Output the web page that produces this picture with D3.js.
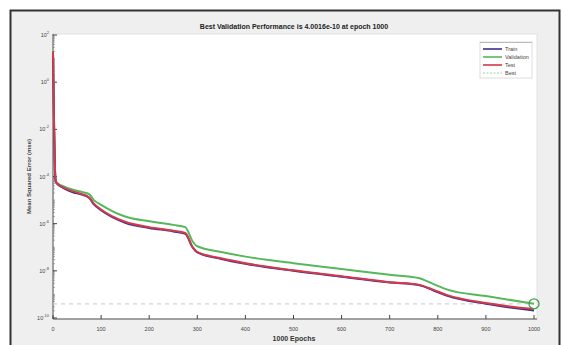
<!DOCTYPE html>
<html>
<head>
<meta charset="utf-8">
<script src="https://cdn.jsdelivr.net/npm/d3@7"></script>
<style>
  body { margin: 0; background: #ffffff; }
  #chart { width: 562px; height: 345px; }
  text { font-family: "Liberation Sans", Arial, sans-serif; }
</style>
</head>
<body>
<div id="chart"></div>
<script>
const epochs = [0, 2, 4, 6, 10, 20, 40, 60, 75, 85, 100, 150, 200, 250, 275, 290, 300, 350, 400, 500, 600, 700, 760, 790, 820, 900, 1000];

const trainMse = [1.6e1, 2.5e-2, 2.0e-4, 5.6e-5, 4.6e-5, 3.4e-5, 2.2e-5, 1.7e-5, 1.26e-5, 6.6e-6, 3.7e-6, 1.1e-6, 6.6e-7, 4.7e-7, 3.7e-7, 1.0e-7, 6.0e-8, 3.2e-8, 2.0e-8, 1.0e-8, 5.6e-9, 3.2e-9, 2.5e-9, 1.5e-9, 8.7e-10, 4.0e-10, 2.1e-10];
const validationMse = [2.0e1, 3.2e-2, 2.5e-4, 6.3e-5, 5.0e-5, 4.0e-5, 2.8e-5, 2.2e-5, 1.8e-5, 1.0e-5, 6.3e-6, 2.0e-6, 1.26e-6, 8.9e-7, 7.1e-7, 1.8e-7, 1.1e-7, 6.3e-8, 4.0e-8, 2.1e-8, 1.2e-8, 6.8e-9, 5.0e-9, 2.8e-9, 1.6e-9, 8.5e-10, 4.0016e-10];
const testMse = [2.0e1, 3.2e-2, 2.5e-4, 6.3e-5, 4.8e-5, 3.5e-5, 2.4e-5, 1.8e-5, 1.3e-5, 7.1e-6, 4.0e-6, 1.2e-6, 7.1e-7, 5.0e-7, 4.0e-7, 1.05e-7, 6.3e-8, 3.4e-8, 2.1e-8, 1.05e-8, 5.9e-9, 3.3e-9, 2.6e-9, 1.6e-9, 9.3e-10, 4.3e-10, 2.4e-10];

const bestEpoch = 1000;
const bestValue = 4.0016e-10;

const xTicks = [0, 100, 200, 300, 400, 500, 600, 700, 800, 900, 1000];
const yTickExps = [2, 0, -2, -4, -6, -8, -10];

const seriesNames = ["Train", "Validation", "Test", "Best"];
const seriesColors = ["#3b2f94", "#55b85a", "#d23a4a", "#9fd39f"];

const W = 562, H = 345;
const plot = { left: 53, right: 537, top: 34, bottom: 319 };

const svg = d3.select("#chart").append("svg")
  .attr("width", W)
  .attr("height", H);

// figure frame
svg.append("rect")
  .attr("x", 10.5).attr("y", 10.5)
  .attr("width", 549).attr("height", 340)
  .attr("fill", "#efefef")
  .attr("stroke", "#333")
  .attr("stroke-width", 2);

// plot area
svg.append("rect")
  .attr("x", plot.left).attr("y", plot.top)
  .attr("width", plot.right - plot.left).attr("height", plot.bottom - plot.top)
  .attr("fill", "#ffffff")
  .attr("stroke", "#e2e2e2");

const x = d3.scaleLinear().domain([0, 1000]).range([plot.left, 534]);
const y = d3.scaleLog().domain([1e-10, 1e2]).range([318, 35]);

// axes lines + ticks
const g = svg.append("g");
g.append("line")
  .attr("x1", plot.left).attr("x2", plot.left)
  .attr("y1", plot.top).attr("y2", plot.bottom)
  .attr("stroke", "#555").attr("stroke-width", 1);
g.append("line")
  .attr("x1", plot.left).attr("x2", plot.right)
  .attr("y1", plot.bottom).attr("y2", plot.bottom)
  .attr("stroke", "#555").attr("stroke-width", 1);

const minor = [];
for (let e = -10; e < 2; e++) {
  for (let m = 1; m < 10; m++) minor.push(m * Math.pow(10, e));
}
g.selectAll(".ymin").data(minor).enter().append("line")
  .attr("x1", plot.left).attr("x2", plot.left + 2)
  .attr("y1", d => y(d)).attr("y2", d => y(d))
  .attr("stroke", "#777").attr("stroke-width", 0.6);

g.selectAll(".ymaj").data(yTickExps).enter().append("line")
  .attr("x1", plot.left).attr("x2", plot.left + 4)
  .attr("y1", d => y(Math.pow(10, d))).attr("y2", d => y(Math.pow(10, d)))
  .attr("stroke", "#444");

const yl = g.selectAll(".ylab").data(yTickExps).enter().append("text")
  .attr("x", plot.left - 4)
  .attr("y", d => y(Math.pow(10, d)) + 2)
  .attr("text-anchor", "end")
  .attr("font-size", 5.5)
  .attr("fill", "#444");
yl.append("tspan").text("10");
yl.append("tspan").attr("dy", -3).attr("font-size", 4).text(d => d);

g.selectAll(".xt").data(xTicks).enter().append("line")
  .attr("x1", d => x(d)).attr("x2", d => x(d))
  .attr("y1", plot.bottom).attr("y2", plot.bottom - 4)
  .attr("stroke", "#444");
g.selectAll(".xl").data(xTicks).enter().append("text")
  .attr("x", d => x(d)).attr("y", 331)
  .attr("text-anchor", "middle")
  .attr("font-size", 5.5)
  .attr("fill", "#444")
  .text(d => d);

// axis labels and title
svg.append("text")
  .attr("x", 294).attr("y", 341)
  .attr("text-anchor", "middle")
  .attr("font-size", 7).attr("font-weight", "bold").attr("fill", "#333")
  .text("1000 Epochs");
svg.append("text")
  .attr("transform", "translate(31," + ((plot.top + plot.bottom) / 2) + ") rotate(-90)")
  .attr("text-anchor", "middle")
  .attr("font-size", 6).attr("font-weight", "bold").attr("fill", "#444")
  .text("Mean Squared Error  (mse)");
svg.append("text")
  .attr("x", 294).attr("y", 29)
  .attr("text-anchor", "middle")
  .attr("font-size", 7).attr("font-weight", "bold").attr("fill", "#222")
  .text("Best Validation Performance is 4.0016e-10 at epoch 1000");

// best marker line
svg.append("line")
  .attr("x1", plot.left).attr("x2", x(bestEpoch))
  .attr("y1", y(bestValue)).attr("y2", y(bestValue))
  .attr("stroke", "#d4d4d4").attr("stroke-width", 1.2)
  .attr("stroke-dasharray", "4,4");

const line = d3.line()
  .x(d => x(d[0]))
  .y(d => y(d[1]))
  .curve(d3.curveMonotoneX);

[[validationMse, seriesColors[1]], [trainMse, seriesColors[0]], [testMse, seriesColors[2]]].forEach(([vals, col]) => {
  svg.append("path")
    .datum(epochs.map((e, i) => [e, vals[i]]))
    .attr("fill", "none")
    .attr("stroke", col)
    .attr("stroke-width", 2)
    .attr("d", line);
});

svg.append("circle")
  .attr("cx", x(bestEpoch)).attr("cy", y(bestValue))
  .attr("r", 5)
  .attr("fill", "none")
  .attr("stroke", "#3fa34a")
  .attr("stroke-width", 1.3);

// legend
const lg = svg.append("g").attr("transform", "translate(480,42)");
lg.append("rect")
  .attr("width", 52).attr("height", 36)
  .attr("fill", "#fff").attr("stroke", "#ddd");
lg.append("line").attr("x1", 0).attr("x2", 52).attr("y1", 0.5).attr("y2", 0.5)
  .attr("stroke", "#bbb");
seriesNames.forEach((name, i) => {
  const yy = 7 + i * 8;
  lg.append("line")
    .attr("x1", 3).attr("x2", 22)
    .attr("y1", yy).attr("y2", yy)
    .attr("stroke", seriesColors[i])
    .attr("stroke-width", i === 3 ? 1 : 1.6)
    .attr("stroke-dasharray", i === 3 ? "2,1.5" : null);
  lg.append("text")
    .attr("x", 25).attr("y", yy + 2)
    .attr("font-size", 5.5).attr("fill", "#444")
    .text(name);
});
</script>
</body>
</html>
